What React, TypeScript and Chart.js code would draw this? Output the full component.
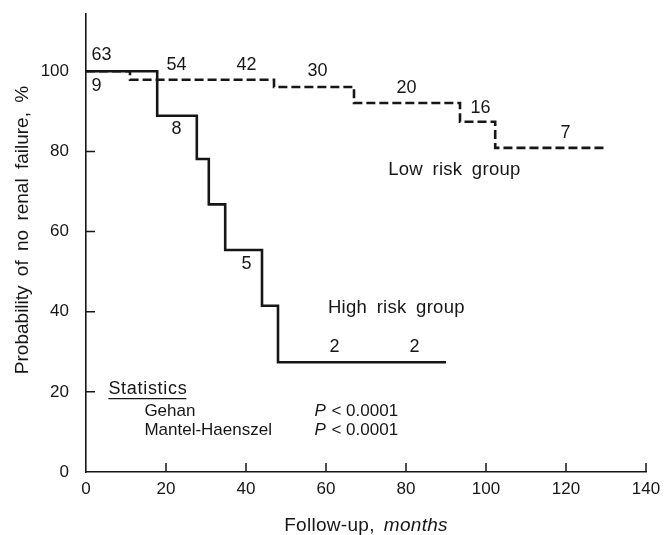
import React, { useEffect, useRef } from "react";
import { Chart, registerables } from "chart.js";

Chart.register(...registerables);

// ---- data ----
const lowRiskMonths = [0, 11, 47, 67, 93.5, 102.3, 130];
const lowRiskProb = [100, 97.9, 96.1, 92.1, 87.4, 80.9, 80.9];
const highRiskMonths = [0, 17.8, 27.7, 30.7, 34.8, 44, 48, 90];
const highRiskProb = [100, 88.9, 78.1, 66.8, 55.4, 41.5, 27.4, 27.4];

const xTicks = [0, 20, 40, 60, 80, 100, 120, 140];
const yTicks = [0, 20, 40, 60, 80, 100];

// numbers at risk (text, month, %)
const lowAtRiskText = ["63", "54", "42", "30", "20", "16", "7"];
const lowAtRiskX = [3.9, 22.6, 40.1, 57.9, 80.1, 98.6, 119.9];
const lowAtRiskY = [104, 101.5, 101.5, 100, 95.8, 90.8, 84.5];
const highAtRiskText = ["9", "8", "5", "2", "2"];
const highAtRiskX = [2.6, 22.6, 40.1, 62.1, 82.1];
const highAtRiskY = [96.3, 85.5, 51.9, 31.2, 31.2];

const groupLabels = ["Low risk group", "High risk group"];
const groupLabelX = [92.1, 77.6];
const groupLabelY = [75.3, 40.9];

const statsTitle = "Statistics";
const statsTests = ["Gehan", "Mantel-Haenszel"];
const statsP = ["< 0.0001", "< 0.0001"];
const statsTitlePos = [5.6, 20.7];
const statsTestX = 14.6;
const statsPX = 57.1;
const statsRowY = [15.2, 10.5];

const xTitleMain = "Follow-up,";
const xTitleItalic = "months";
const yTitle = "Probability of no renal failure, %";

const FONT = '"Liberation Sans", Arial, Helvetica, sans-serif';
const INK = "#161616";

const decorPlugin = {
  id: "decor",
  afterDatasetsDraw(chart: any) {
    const ctx: any = chart.ctx;
    const xs = chart.scales.x;
    const ys = chart.scales.y;
    const area = chart.chartArea;
    ctx.save();
    ctx.strokeStyle = INK;
    ctx.fillStyle = INK;
    ctx.lineWidth = 1.5;
    // inward tick marks
    ctx.beginPath();
    xTicks.forEach((v) => {
      if (v === 0) return;
      const px = xs.getPixelForValue(v);
      ctx.moveTo(px, area.bottom);
      ctx.lineTo(px, area.bottom - 9);
    });
    yTicks.forEach((v) => {
      if (v === 0) return;
      const py = ys.getPixelForValue(v);
      ctx.moveTo(area.left, py);
      ctx.lineTo(area.left + 9, py);
    });
    ctx.stroke();

    const X = (v: number) => xs.getPixelForValue(v);
    const Y = (v: number) => ys.getPixelForValue(v);

    // numbers at risk
    ctx.font = `18px ${FONT}`;
    ctx.textAlign = "center";
    ctx.textBaseline = "middle";
    lowAtRiskText.forEach((t, i) => ctx.fillText(t, X(lowAtRiskX[i]), Y(lowAtRiskY[i])));
    highAtRiskText.forEach((t, i) => ctx.fillText(t, X(highAtRiskX[i]), Y(highAtRiskY[i])));

    // group labels
    ctx.font = `18.5px ${FONT}`;
    ctx.wordSpacing = "4px";
    ctx.letterSpacing = "0.3px";
    groupLabels.forEach((t, i) => ctx.fillText(t, X(groupLabelX[i]), Y(groupLabelY[i])));
    ctx.wordSpacing = "0px";
    ctx.letterSpacing = "0px";

    // statistics block
    ctx.textAlign = "left";
    ctx.font = `18px ${FONT}`;
    ctx.letterSpacing = "0.7px";
    const sx = X(statsTitlePos[0]);
    const sy = Y(statsTitlePos[1]);
    ctx.fillText(statsTitle, sx, sy);
    const sw = ctx.measureText(statsTitle).width;
    ctx.letterSpacing = "0px";
    ctx.lineWidth = 1.2;
    ctx.beginPath();
    ctx.moveTo(sx, sy + 9.5);
    ctx.lineTo(sx + sw - 1, sy + 9.5);
    ctx.stroke();
    statsTests.forEach((t, i) => {
      const py = Y(statsRowY[i]);
      ctx.font = `17px ${FONT}`;
      ctx.fillText(t, X(statsTestX), py);
      ctx.font = `italic 17px ${FONT}`;
      ctx.fillText("P", X(statsPX), py);
      const pw = ctx.measureText("P").width;
      ctx.font = `17px ${FONT}`;
      ctx.fillText(" " + statsP[i], X(statsPX) + pw + 1, py);
    });

    // x axis title
    ctx.font = `19px ${FONT}`;
    ctx.letterSpacing = "0.3px";
    const w1 = ctx.measureText(xTitleMain).width + 9;
    ctx.font = `italic 19px ${FONT}`;
    const w2 = ctx.measureText(xTitleItalic).width;
    const cx = (area.left + area.right) / 2;
    const tx = cx - (w1 + w2) / 2;
    const ty = 526;
    ctx.font = `19px ${FONT}`;
    ctx.fillText(xTitleMain, tx, ty);
    ctx.font = `italic 19px ${FONT}`;
    ctx.fillText(xTitleItalic, tx + w1, ty);
    ctx.letterSpacing = "0px";

    // y axis title
    ctx.save();
    ctx.translate(23, 230);
    ctx.rotate(-Math.PI / 2);
    ctx.textAlign = "center";
    ctx.font = `19px ${FONT}`;
    ctx.wordSpacing = "4px";
    ctx.fillText(yTitle, 0, 0);
    ctx.restore();

    ctx.restore();
  },
};

export default function App() {
  const ref = useRef<HTMLCanvasElement | null>(null);
  useEffect(() => {
    if (!ref.current) return;
    const chart = new Chart(ref.current, {
      type: "line",
      data: {
        datasets: [
          {
            label: "Low risk group",
            data: lowRiskMonths.map((m, i) => ({ x: m, y: lowRiskProb[i] })),
            borderColor: INK,
            borderWidth: 2.6,
            borderDash: [9, 4],
            pointRadius: 0,
            fill: false,
            stepped: "before",
          },
          {
            label: "High risk group",
            data: highRiskMonths.map((m, i) => ({ x: m, y: highRiskProb[i] })),
            borderColor: INK,
            borderWidth: 2.6,
            pointRadius: 0,
            fill: false,
            stepped: "before",
          },
        ],
      },
      options: {
        animation: false,
        responsive: false,
        layout: { padding: { left: 0, right: 19, top: 14, bottom: 0 } },
        plugins: {
          legend: { display: false },
          tooltip: { enabled: false },
        },
        scales: {
          x: {
            type: "linear",
            min: 0,
            max: 140,
            afterBuildTicks: (s: any) => {
              s.ticks = xTicks.map((v) => ({ value: v }));
            },
            afterFit: (s: any) => {
              s.height = 63;
              s.paddingLeft = 0;
              s.paddingRight = 0;
            },
            grid: { display: false },
            border: { display: true, color: INK, width: 1.6 },
            ticks: {
              color: INK,
              font: { family: FONT, size: 17 },
              padding: -1,
              maxRotation: 0,
            },
          },
          y: {
            type: "linear",
            min: 0,
            max: 114.3,
            afterBuildTicks: (s: any) => {
              s.ticks = yTicks.map((v) => ({ value: v }));
            },
            afterFit: (s: any) => {
              s.width = 86;
              s.paddingTop = 0;
              s.paddingBottom = 0;
            },
            grid: { display: false },
            border: { display: true, color: INK, width: 1.6 },
            ticks: {
              color: INK,
              font: { family: FONT, size: 17 },
              padding: 9,
            },
          },
        },
      },
      plugins: [decorPlugin],
    });
    return () => chart.destroy();
  }, []);
  return (
    <div style={{ position: "absolute", left: 0, top: 0, width: 665, height: 535, background: "#fff" }}>
      <canvas ref={ref} width={665} height={535} style={{ display: "block" }} />
    </div>
  );
}
